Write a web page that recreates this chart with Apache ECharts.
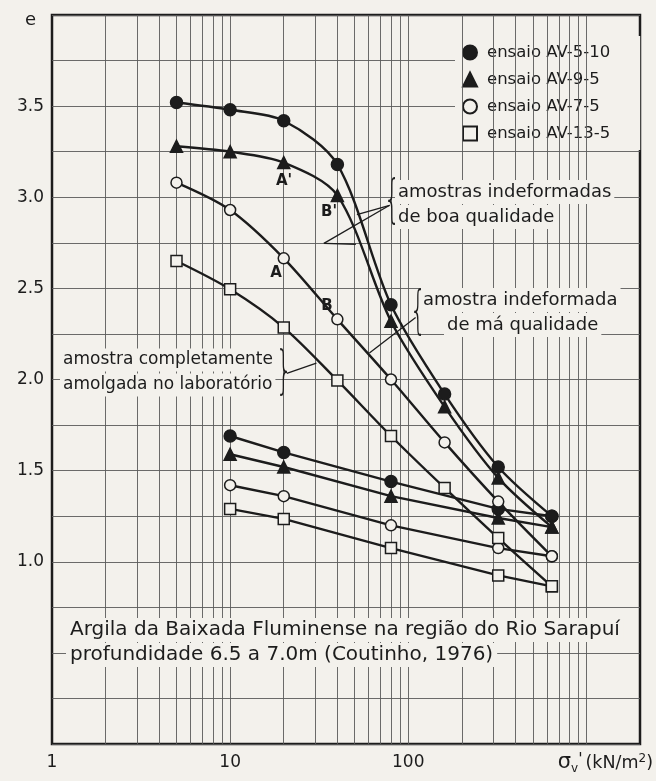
<!DOCTYPE html>
<html><head><meta charset="utf-8">
<script src="https://cdn.jsdelivr.net/npm/echarts@6/dist/echarts.min.js"></script>
<style>html,body{margin:0;padding:0;background:#f3f1ec}#c{width:656px;height:781px}</style>
</head><body><div id="c"></div>
<script>
// ---- data ----
const loadStress = [5, 10, 20, 40, 80, 160, 320, 640];
const unloadStress = [640, 320, 80, 20, 10];
const av5_10_load = [3.52, 3.48, 3.42, 3.18, 2.41, 1.92, 1.52, 1.25];
const av5_10_unload = [1.25, 1.29, 1.44, 1.60, 1.69];
const av9_5_load = [3.28, 3.25, 3.19, 3.01, 2.32, 1.85, 1.46, 1.19];
const av9_5_unload = [1.19, 1.24, 1.36, 1.52, 1.59];
const av7_5_load = [3.08, 2.93, 2.665, 2.33, 2.0, 1.655, 1.33, 1.03];
const av7_5_unload = [1.03, 1.075, 1.20, 1.36, 1.42];
const av13_5_load = [2.65, 2.495, 2.285, 1.995, 1.69, 1.405, 1.13, 0.865];
const av13_5_unload = [0.865, 0.925, 1.075, 1.235, 1.29];
const seriesNames = ['ensaio AV-5-10', 'ensaio AV-9-5', 'ensaio AV-7-5', 'ensaio AV-13-5'];
const yTickLabels = [1.0, 1.5, 2.0, 2.5, 3.0, 3.5];
const xTickLabels = [1, 10, 100];
const xGridValues = [2,3,4,5,6,7,8,9,10,20,30,40,50,60,70,80,90,100,200,300,400,500,600,700,800,900,1000];

// ---- styling ----
const PAPER = '#f3f1ec';
const INK = '#1c1c1c';
const GRID = '#5a5a5a';
const FONT = 'DejaVu Sans';

function pairs(xs, ys) { return xs.map((x, i) => [x, ys[i]]); }

const symbolDefs = [
  { symbol: 'circle', size: 12, fill: INK },
  { symbol: 'triangle', size: 12, fill: INK },
  { symbol: 'circle', size: 11, fill: PAPER },
  { symbol: 'rect', size: 11, fill: PAPER }
];
const loads = [av5_10_load, av9_5_load, av7_5_load, av13_5_load];
const unloads = [av5_10_unload, av9_5_unload, av7_5_unload, av13_5_unload];

const series = [];
// vertical log grid lines
series.push({
  type: 'line', data: [], silent: true, z: 1,
  markLine: {
    silent: true, symbol: 'none', label: { show: false },
    lineStyle: { color: GRID, width: 0.9, type: 'solid' },
    emphasis: { disabled: true },
    data: xGridValues.map(v => ({ xAxis: v }))
  }
});
seriesNames.forEach((name, i) => {
  const sd = symbolDefs[i];
  const common = {
    name, type: 'line', z: 5,
    symbol: sd.symbol, symbolSize: sd.size,
    lineStyle: { color: INK, width: 2.4 },
    itemStyle: { color: sd.fill, borderColor: INK, borderWidth: 1.5 },
    emphasis: { disabled: true }
  };
  series.push(Object.assign({}, common, { data: pairs(loadStress, loads[i]), smooth: 0.3 }));
  series.push(Object.assign({}, common, { data: pairs(unloadStress, unloads[i]), smooth: false }));
});

// arrows (data coordinates)
series.push({
  type: 'line', data: [], silent: true, z: 6,
  markLine: {
    silent: true, symbol: ['none', 'arrow'], symbolSize: [0, 9],
    label: { show: false },
    lineStyle: { color: INK, width: 1.3, type: 'solid' },
    emphasis: { disabled: true },
    data: [
      [{ coord: [78.6, 2.956] }, { coord: [51.5, 2.905] }],
      [{ coord: [78.6, 2.956], symbol: 'none' }, { coord: [33.6, 2.747], symbol: 'none' }],
      [{ coord: [33.6, 2.747] }, { coord: [50.8, 2.742] }],
      [{ coord: [110, 2.34] }, { coord: [60.5, 2.145] }],
      [{ coord: [20.8, 2.033] }, { coord: [30.5, 2.09] }]
    ]
  }
});

function txt(text, x, y, opt) {
  return {
    type: 'text', z: 50, silent: true,
    style: Object.assign({
      text, x, y, font: '17px "' + FONT + '"', fill: INK,
      backgroundColor: PAPER, padding: [3, 3, 3, 3],
      verticalAlign: 'middle', align: 'left'
    }, opt || {})
  };
}
function brace(ch, x, y, h) {
  return {
    type: 'text', z: 51, silent: true,
    style: { text: ch, x, y, font: '300 ' + h + 'px "' + FONT + '"', fill: INK, verticalAlign: 'middle', align: 'center' },
    scaleX: 0.5, originX: x, originY: y
  };
}
const F18 = { font: '18px "' + FONT + '"' };
const F20 = { font: '20px "' + FONT + '"', padding: [2, 4, 2, 4] };
const FB = { align: 'center', backgroundColor: 'transparent', padding: 0, font: 'bold 15px "' + FONT + '"' };

const graphic = [
  txt('amostras indeformadas', 395, 192, F18),
  txt('de boa qualidade', 395, 217, F18),
  brace('{', 392, 202, 52),
  txt('amostra indeformada', 420, 300, F18),
  txt('de má qualidade', 444, 325, F18),
  brace('{', 418, 313, 52),
  txt('amostra completamente', 60, 360),
  txt('amolgada no laboratório', 60, 385),
  brace('}', 284, 373, 52),
  txt('Argila da Baixada Fluminense na região do Rio Sarapuí', 66, 630, F20),
  txt('profundidade 6.5 a 7.0m (Coutinho, 1976)', 66, 655, F20),
  txt("A'", 284, 181, FB),
  txt("B'", 329, 212, FB),
  txt('A', 276, 273, FB),
  txt('B', 327, 306, FB)
];

const chart = echarts.init(document.getElementById('c'), null, { renderer: 'canvas' });
chart.setOption({
  backgroundColor: PAPER,
  animation: false,
  grid: { left: 52, right: 13, top: 15, bottom: 37, show: true, borderColor: INK, borderWidth: 2.5, backgroundColor: 'transparent' },
  xAxis: {
    type: 'log', logBase: 10, min: 1, max: 2000,
    axisLine: { show: false }, axisTick: { show: false }, splitLine: { show: false },
    axisLabel: {
      margin: 10, fontSize: 17, fontFamily: FONT, color: INK,
      formatter: v => xTickLabels.includes(Math.round(v)) ? String(Math.round(v)) : ''
    },
    name: '{s|σ}{v|v}{q|\'}{t|(kN/m}{u|2}{t|)}',
    nameLocation: 'end', nameGap: 13,
    nameTextStyle: {
      align: 'right', verticalAlign: 'top', padding: [7, 0, 0, 0],
      rich: {
        s: { fontSize: 21, fontFamily: FONT, color: INK },
        v: { fontSize: 12, fontFamily: FONT, color: INK, padding: [12, 0, 0, 0] },
        q: { fontSize: 16, fontFamily: FONT, color: INK, padding: [0, 3, 6, 0] },
        t: { fontSize: 17.5, fontFamily: FONT, color: INK },
        u: { fontSize: 12, fontFamily: FONT, color: INK, padding: [0, 0, 8, 0] }
      }
    }
  },
  yAxis: {
    type: 'value', min: 0, max: 4, interval: 0.25,
    axisLine: { show: false }, axisTick: { show: false },
    splitLine: { show: true, lineStyle: { color: GRID, width: 0.9 } },
    axisLabel: {
      margin: 8, fontSize: 17, fontFamily: FONT, color: INK,
      formatter: v => yTickLabels.some(t => Math.abs(t - v) < 1e-9) ? v.toFixed(1) : ''
    },
    name: 'e', nameLocation: 'end', nameGap: -5,
    nameTextStyle: { fontSize: 18, fontFamily: FONT, color: INK, align: 'right', verticalAlign: 'middle', padding: [0, 16, 0, 0] }
  },
  legend: {
    orient: 'vertical', left: 455, top: 36,
    padding: [8, 30, 8, 7], itemGap: 10, itemWidth: 14, itemHeight: 14,
    backgroundColor: PAPER, selectedMode: false,
    textStyle: { fontSize: 16.5, fontFamily: FONT, color: INK, padding: [0, 0, 0, 5] },
    data: [
      { name: seriesNames[0], icon: 'circle' },
      { name: seriesNames[1], icon: 'triangle' },
      { name: seriesNames[2], icon: 'circle' },
      { name: seriesNames[3], icon: 'rect' }
    ]
  },
  series,
  graphic
});
</script>
</body></html>
